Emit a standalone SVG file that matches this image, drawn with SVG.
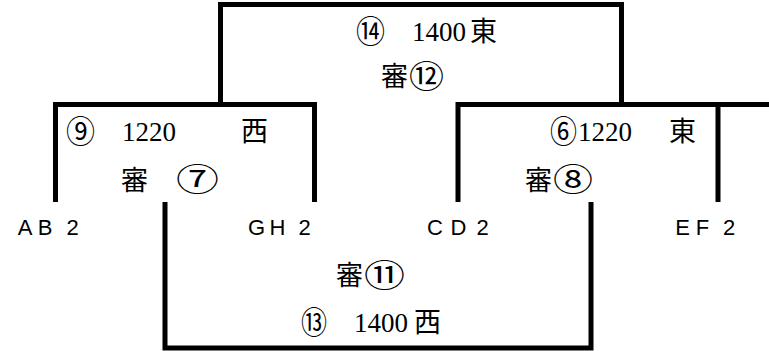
<svg xmlns="http://www.w3.org/2000/svg" width="769" height="351" viewBox="0 0 769 351">
<style>
.ln{fill:none;stroke:#000;stroke-width:5;stroke-linejoin:miter;stroke-linecap:butt}
.cj{font-family:"Noto Sans CJK JP","Noto Sans CJK SC",sans-serif;font-size:27px;fill:#000}
.cn{font-family:"Noto Sans CJK JP","Noto Sans CJK SC",sans-serif;font-size:32px;fill:#000}
.num{font-family:"Liberation Serif","Times New Roman",serif;font-size:27px;fill:#000}
.team{font-family:"Liberation Sans",Arial,sans-serif;font-size:22px;fill:#000;text-anchor:middle}
</style>
<rect width="769" height="351" fill="#fff"/>
<g id="connectors">
<path class="ln" d="M220.5,104.5 V4.5 H621.5 V104.5"/>
<path class="ln" d="M55.5,202 V104.5 H314.5 V202"/>
<path class="ln" d="M458,202 V104.5 H769"/>
<path class="ln" d="M718,104.5 V202"/>
<path class="ln" d="M165,202 V348 H591 V202"/>
</g>
<g id="node-final-east">
<text class="cn" x="356" y="43" textLength="29" lengthAdjust="spacingAndGlyphs">⑭</text>
<text class="num" x="412" y="41">1400</text>
<text class="cj" x="470" y="41">東</text>
<text class="cj" x="381" y="86">審</text>
<text class="cn" x="409" y="88" textLength="35" lengthAdjust="spacingAndGlyphs">⑫</text>
</g>
<g id="node-semi-west">
<text class="cn" x="66" y="143" textLength="29" lengthAdjust="spacingAndGlyphs">⑨</text>
<text class="num" x="122" y="141">1220</text>
<text class="cj" x="241" y="141">西</text>
<text class="cj" x="121" y="190">審</text>
<text class="cn" x="176" y="191" textLength="43" lengthAdjust="spacingAndGlyphs">⑦</text>
</g>
<g id="node-semi-east">
<text class="cn" x="550" y="143" textLength="27" lengthAdjust="spacingAndGlyphs">⑥</text>
<text class="num" x="578" y="141">1220</text>
<text class="cj" x="669" y="141">東</text>
<text class="cj" x="525" y="190">審</text>
<text class="cn" x="553" y="191" textLength="40" lengthAdjust="spacingAndGlyphs">⑧</text>
</g>
<g id="node-final-west">
<text class="cj" x="336" y="285">審</text>
<text class="cn" x="364" y="287" textLength="41" lengthAdjust="spacingAndGlyphs">⑪</text>
<text class="cn" x="301" y="334" textLength="26" lengthAdjust="spacingAndGlyphs">⑬</text>
<text class="num" x="354" y="332">1400</text>
<text class="cj" x="414" y="332">西</text>
</g>
<g id="team-ab2"><text class="team" x="25 45 72.5" y="235">AB2</text></g>
<g id="team-gh2"><text class="team" x="256.5 277.5 304.5" y="235">GH2</text></g>
<g id="team-cd2"><text class="team" x="435 458.5 482.5" y="235">CD2</text></g>
<g id="team-ef2"><text class="team" x="682.5 702.5 729" y="235">EF2</text></g>
</svg>
